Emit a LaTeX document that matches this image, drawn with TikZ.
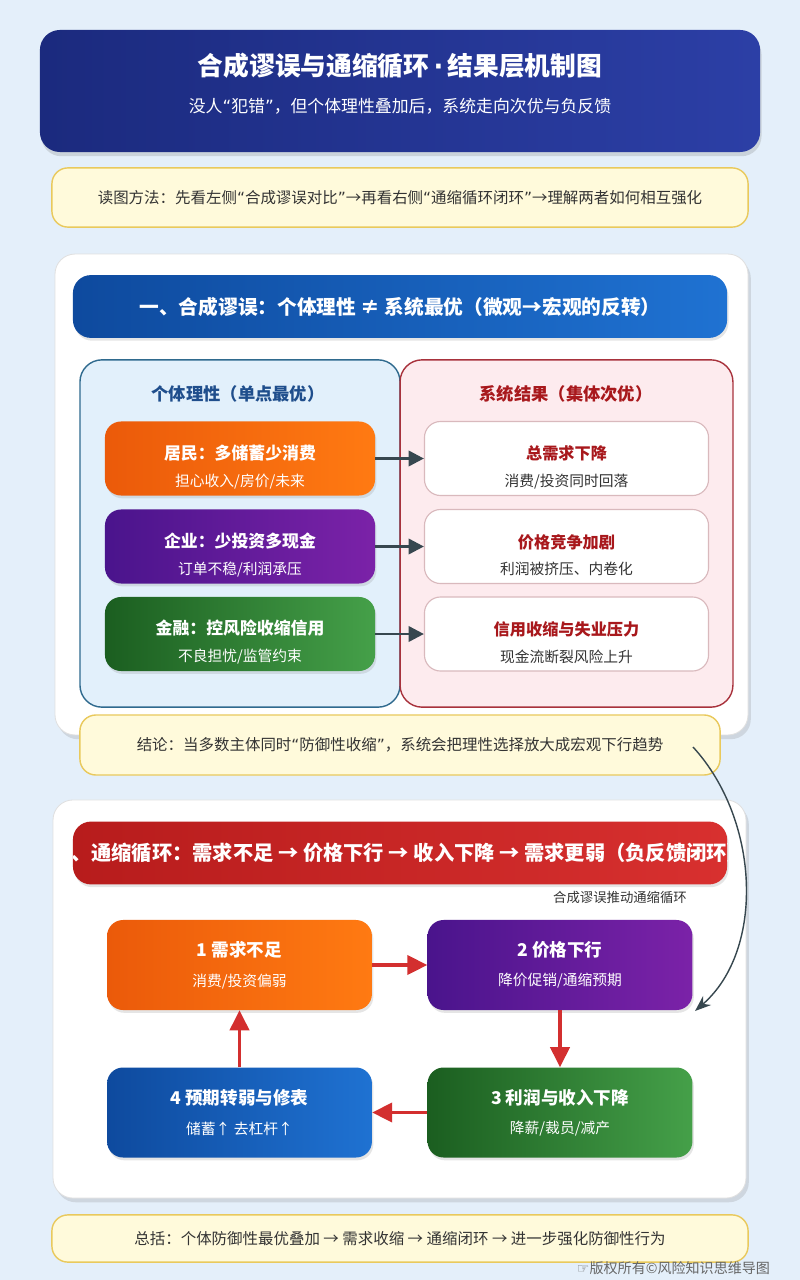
\documentclass[tikz,border=0pt]{standalone}
\usepackage{fontspec}
\setmainfont{Noto Sans CJK SC}
\newfontfamily\symfont{DejaVu Sans}
\usetikzlibrary{arrows.meta,positioning,shadows}
\definecolor{pagebg}{HTML}{E4EFFA}
\definecolor{navyA}{HTML}{1B2A7E}
\definecolor{navyB}{HTML}{2C3FA6}
\definecolor{noteFill}{HTML}{FFFADB}
\definecolor{noteLine}{HTML}{E9C95C}
\definecolor{blueA}{HTML}{0E4A9E}
\definecolor{blueB}{HTML}{1F72D2}
\definecolor{leftFill}{HTML}{E2F0FB}
\definecolor{leftLine}{HTML}{2F6A8E}
\definecolor{leftHead}{HTML}{1F4E8C}
\definecolor{rightFill}{HTML}{FDEBEE}
\definecolor{rightLine}{HTML}{A8323C}
\definecolor{rightHead}{HTML}{A8181C}
\definecolor{cardLine}{HTML}{D9B9BD}
\definecolor{orangeA}{HTML}{EB5A0A}
\definecolor{orangeB}{HTML}{FF7A12}
\definecolor{purpleA}{HTML}{4A148C}
\definecolor{purpleB}{HTML}{7B22A8}
\definecolor{greenA}{HTML}{1B5E20}
\definecolor{greenB}{HTML}{45A049}
\definecolor{redA}{HTML}{B71C1C}
\definecolor{redB}{HTML}{D8302F}
\definecolor{slate}{HTML}{37474F}
\definecolor{loopred}{HTML}{D32F2F}
\definecolor{textgray}{HTML}{333333}
\newcommand{\cardsub}[1]{{\fontsize{10.5}{12}\selectfont\mdseries #1}}
\newcommand{\cardtop}{\rule{0pt}{22pt}}
\newcommand{\quoted}[1]{{\symfont “}#1{\symfont ”}}
\tikzset{
  panel/.style={draw=black!12,fill=white,rounded corners=0.5cm,line width=0.6pt,
                drop shadow={shadow xshift=2pt,shadow yshift=-3pt,opacity=0.22}},
  notebox/.style={draw=noteLine,fill=noteFill,line width=1pt,rounded corners=0.4cm,
                  text=textgray,font=\fontsize{11}{13}\selectfont},
  bar/.style={rounded corners=0.45cm,minimum width=16.35cm,minimum height=1.57cm,
              text=white,font=\bfseries\fontsize{14}{16}\selectfont,
              drop shadow={shadow xshift=1pt,shadow yshift=-2pt,opacity=0.2}},
  colcard/.style={rounded corners=0.4cm,minimum width=6.75cm,minimum height=1.85cm,
                  align=center,text=white,font=\bfseries\fontsize{12}{14}\selectfont,
                  drop shadow={shadow xshift=1pt,shadow yshift=-2pt,opacity=0.2}},
  whitecard/.style={draw=cardLine,fill=white,line width=0.8pt,rounded corners=0.4cm,
                    minimum width=7.1cm,minimum height=1.85cm,align=center,
                    text=rightHead,font=\bfseries\fontsize{11.5}{14}\selectfont},
  loopcard/.style={colcard,minimum width=6.62cm,minimum height=2.25cm,
                   font=\bfseries\fontsize{12.5}{15}\selectfont},
  darkarr/.style={-{Triangle[length=3.8mm,width=3.8mm]},line width=2pt,draw=slate},
  redarr/.style={-{Triangle[length=5mm,width=4.8mm]},line width=2.4pt,draw=loopred},
  pushar/.style={-{Stealth[length=4mm,width=3mm]},line width=1pt,draw=slate}
}
\begin{document}
\begin{tikzpicture}[x=0.025cm,y=-0.025cm]
  \useasboundingbox (0,0) rectangle (800,1280);
  \fill[pagebg] (0,0) rectangle (800,1280);

  % header
  \node[rounded corners=0.5cm,minimum width=18cm,minimum height=3.05cm,
        left color=navyA,right color=navyB,
        drop shadow={shadow xshift=1pt,shadow yshift=-3pt,opacity=0.25}] (head) at (400,91) {};
  \node[text=white,font=\bfseries\fontsize{18.3}{21}\selectfont] (title) at (400,66)
    {合成谬误与通缩循环\,{\symfont ·}\,结果层机制图};
  \node[text=white,font=\fontsize{12}{14}\selectfont] (subtitle) at (400,106)
    {没人\quoted{犯错}，但个体理性叠加后，系统走向次优与负反馈};
  \node[notebox,minimum width=17.4cm,minimum height=1.48cm] (howto) at (400,197.5)
    {读图方法：先看左侧\quoted{合成谬误对比}→再看右侧\quoted{通缩循环闭环}→理解两者如何相互强化};

  % part one
  \node[panel,minimum width=17.32cm,minimum height=12.02cm] (partA) at (401.5,494.5) {};
  \node[bar,left color=blueA,right color=blueB] (barA) at (400,306.5)
    {一、合成谬误：个体理性 ≠ 系统最优（微观→宏观的反转）};
  \node[draw=leftLine,fill=leftFill,line width=1pt,rounded corners=0.55cm,
        minimum width=8cm,minimum height=8.68cm] (micro) at (240,533.5) {};
  \node[draw=rightLine,fill=rightFill,line width=1pt,rounded corners=0.55cm,
        minimum width=8.32cm,minimum height=8.68cm] (macro) at (566.5,533.5) {};
  \node[text=leftHead,font=\bfseries\fontsize{12.3}{14}\selectfont] (microT) at (238,394)
    {个体理性（单点最优）};
  \node[text=rightHead,font=\bfseries\fontsize{12.3}{14}\selectfont] (macroT) at (566,394)
    {系统结果（集体次优）};

  \node[colcard,left color=orangeA,right color=orangeB] (home) at (240,458.5)
    {\cardtop 居民：多储蓄少消费\\[5pt]\cardsub{担心收入/房价/未来}};
  \node[colcard,left color=purpleA,right color=purpleB] (firm) at (240,546.5)
    {\cardtop 企业：少投资多现金\\[5pt]\cardsub{订单不稳/利润承压}};
  \node[colcard,left color=greenA,right color=greenB] (bank) at (240,634)
    {\cardtop 金融：控风险收缩信用\\[5pt]\cardsub{不良担忧/监管约束}};
  \node[whitecard] (demand) at (566.5,458.5)
    {\cardtop 总需求下降\\[5pt]{\color{textgray}\cardsub{消费/投资同时回落}}};
  \node[whitecard] (price) at (566.5,546.5)
    {\cardtop 价格竞争加剧\\[5pt]{\color{textgray}\cardsub{利润被挤压、内卷化}}};
  \node[whitecard] (credit) at (566.5,634)
    {\cardtop 信用收缩与失业压力\\[5pt]{\color{textgray}\cardsub{现金流断裂风险上升}}};
  \draw[darkarr] (home) -- (demand);
  \draw[darkarr] (firm) -- (price);
  \draw[darkarr] (bank) -- (credit);

  \node[notebox,minimum width=16cm,minimum height=1.5cm] (verdict) at (400,745)
    {结论：当多数主体同时\quoted{防御性收缩}，系统会把理性选择放大成宏观下行趋势};

  % part two
  \node[panel,minimum width=17.32cm,minimum height=9.95cm] (partB) at (399.5,999) {};
  \node[bar,left color=redA,right color=redB] (barB) at (400,853) {};
  \begin{scope}
    \clip[rounded corners=0.45cm] (barB.south west) rectangle (barB.north east);
    \node[text=white,font=\bfseries\fontsize{14.4}{17}\selectfont] (barBtxt) at (399,853)
      {二、通缩循环：需求不足 → 价格下行 → 收入下降 → 需求更弱（负反馈闭环）};
  \end{scope}
  \node[text=textgray,font=\fontsize{9.5}{11}\selectfont] (pushlbl) at (620,897)
    {合成谬误推动通缩循环};

  \node[loopcard,left color=orangeA,right color=orangeB] (stepA) at (239.5,965)
    {1 需求不足\\[6pt]\cardsub{消费/投资偏弱}};
  \node[loopcard,left color=purpleA,right color=purpleB] (stepB) at (560,965)
    {2 价格下行\\[6pt]\cardsub{降价促销/通缩预期}};
  \node[loopcard,left color=greenA,right color=greenB] (stepC) at (560,1112.5)
    {3 利润与收入下降\\[6pt]\cardsub{降薪/裁员/减产}};
  \node[loopcard,left color=blueA,right color=blueB] (stepD) at (239.5,1112.5)
    {4 预期转弱与修表\\[6pt]\cardsub{储蓄↑ 去杠杆↑}};
  \draw[redarr] (stepA) -- (stepB);
  \draw[redarr] (stepB) -- (stepC);
  \draw[redarr] (stepC) -- (stepD);
  \draw[redarr] (stepD) -- (stepA);

  \coordinate (pushS) at (693,747);
  \coordinate (pushE) at (695,1011);
  \draw[pushar] (pushS) .. controls (760,820) and (765,950) .. (pushE);

  \node[notebox,minimum width=17.4cm,minimum height=1.18cm] (wrap) at (400,1238.5)
    {总括：个体防御性最优叠加 → 需求收缩 → 通缩闭环 → 进一步强化防御性行为};
  \node[text=black!60,font=\fontsize{10}{12}\selectfont,anchor=east] (copy) at (775,1268)
    {{\symfont ☞}版权所有©风险知识思维导图};
\end{tikzpicture}
\end{document}
